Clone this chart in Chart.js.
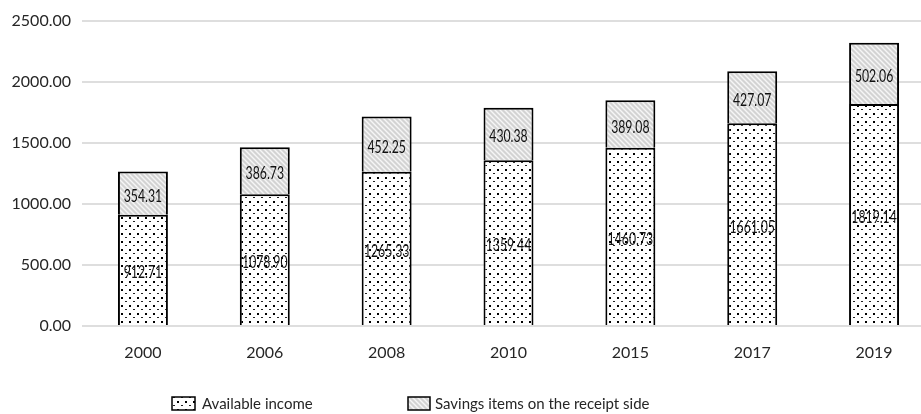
<!DOCTYPE html>
<html>
<head>
<meta charset="utf-8">
<script src="https://cdn.jsdelivr.net/npm/chart.js@4"></script>
<style>
html,body{margin:0;padding:0;background:#fff;overflow:hidden;width:921px;height:414px;}
#wrap{position:absolute;left:0;top:0;width:935px;height:414px;}
</style>
</head>
<body>
<div id="wrap"><canvas id="c"></canvas></div>
<script>
const years = ['2000', '2006', '2008', '2010', '2015', '2017', '2019'];
const availableIncome = [912.71, 1078.90, 1265.33, 1359.44, 1460.73, 1661.05, 1819.14];
const savingsItems = [354.31, 386.73, 452.25, 430.38, 389.08, 427.07, 502.06];
const seriesNames = ['Available income', 'Savings items on the receipt side'];
const yMax = 2500;
const yStep = 500;

const canvas = document.getElementById('c');
const ctx = canvas.getContext('2d');

function dotPattern() {
  const t = document.createElement('canvas');
  t.width = 8; t.height = 8;
  const g = t.getContext('2d');
  g.fillStyle = '#ffffff';
  g.fillRect(0, 0, 8, 8);
  g.fillStyle = '#000000';
  g.fillRect(1, 1, 2, 2);
  g.fillStyle = '#222222';
  g.fillRect(5, 5, 2, 1);
  return ctx.createPattern(t, 'repeat');
}
function stripePattern() {
  const s = 5;
  const t = document.createElement('canvas');
  t.width = s; t.height = s;
  const g = t.getContext('2d');
  g.fillStyle = '#d3d3d3';
  g.fillRect(0, 0, s, s);
  g.strokeStyle = '#f6f6f6';
  g.lineWidth = 1.4;
  g.beginPath();
  g.moveTo(-1, -1); g.lineTo(s + 1, s + 1);
  g.moveTo(-1, s - 1); g.lineTo(1, s + 1);
  g.moveTo(s - 1, -1); g.lineTo(s + 1, 1);
  g.stroke();
  return ctx.createPattern(t, 'repeat');
}
const dots = dotPattern();
const stripes = stripePattern();

const valueLabels = {
  id: 'valueLabels',
  afterDatasetsDraw(chart) {
    const c = chart.ctx;
    chart.data.datasets.forEach((ds, di) => {
      const meta = chart.getDatasetMeta(di);
      meta.data.forEach((el, i) => {
        const y = (el.y + el.base) / 2 + 3;
        c.save();
        c.translate(el.x, y);
        c.scale(0.72, 1);
        c.font = '17px Lato';
        c.fillStyle = '#111111';
        c.textAlign = 'center';
        c.textBaseline = 'middle';
        c.fillText(ds.data[i].toFixed(2), 0, 0);
        c.restore();
      });
    });
  }
};

const customLegend = {
  id: 'customLegend',
  afterDraw(chart) {
    const c = chart.ctx;
    const items = [
      {x: 172, w: 23, textX: 202},
      {x: 408, w: 22, textX: 435}
    ];
    const boxY = 397, boxH = 13, textY = 404;
    chart.data.datasets.forEach((ds, i) => {
      const it = items[i];
      c.save();
      c.fillStyle = ds.backgroundColor;
      c.fillRect(it.x, boxY, it.w, boxH);
      c.strokeStyle = '#000';
      c.lineWidth = 1.5;
      c.strokeRect(it.x, boxY, it.w, boxH);
      c.font = '15px Lato';
      c.fillStyle = '#262626';
      c.textAlign = 'left';
      c.textBaseline = 'middle';
      c.fillText(ds.label, it.textX, textY);
      c.restore();
    });
  }
};

new Chart(canvas, {
  type: 'bar',
  data: {
    labels: years,
    datasets: [
      {
        label: seriesNames[0],
        data: availableIncome,
        backgroundColor: dots,
        borderColor: '#000',
        borderWidth: 2,
        borderSkipped: 'start',
        barPercentage: 0.41,
        categoryPercentage: 1
      },
      {
        label: seriesNames[1],
        data: savingsItems,
        backgroundColor: stripes,
        borderColor: '#000',
        borderWidth: 2,
        borderSkipped: 'start',
        barPercentage: 0.41,
        categoryPercentage: 1
      }
    ]
  },
  options: {
    responsive: true,
    maintainAspectRatio: false,
    animation: false,
    layout: {padding: {top: 21, right: 0, bottom: 0, left: 0}},
    plugins: {
      legend: {display: false},
      tooltip: {enabled: false}
    },
    scales: {
      x: {
        stacked: true,
        grid: {display: false, drawTicks: false},
        border: {display: false},
        ticks: {font: {family: 'Lato', size: 16}, color: '#262626', padding: 17},
        afterFit(s) { s.height = 88; }
      },
      y: {
        stacked: true,
        min: 0,
        max: yMax,
        grid: {color: '#dedede', lineWidth: 2, drawTicks: false},
        border: {display: false},
        ticks: {
          stepSize: yStep,
          font: {family: 'Lato', size: 16},
          color: '#262626',
          padding: 11,
          callback: v => v.toFixed(2)
        },
        afterFit(s) { s.width = 82; }
      }
    }
  },
  plugins: [valueLabels, customLegend]
});
</script>
</body>
</html>
